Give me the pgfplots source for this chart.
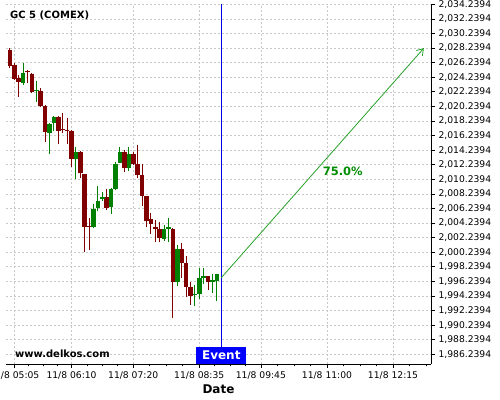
\documentclass[border=0pt]{standalone}
\usepackage{fontspec}
\setmainfont{DejaVu Sans}
\usepackage{pgfplots}
\pgfplotsset{compat=1.18}
\usepackage{pgfplotstable}
\usetikzlibrary{arrows.meta}
\definecolor{cred}{RGB}{128,0,0}
\definecolor{cgreen}{RGB}{0,128,0}
\definecolor{agreen}{RGB}{40,160,40}
\definecolor{tgreen}{RGB}{0,140,0}
\definecolor{evblue}{RGB}{0,0,230}
\definecolor{boxblue}{RGB}{0,0,255}
\definecolor{gridgray}{RGB}{200,200,200}

% t = minutes after 11/8 05:05
\pgfplotstableread{
t O H L C
-5 2027.99 2028.22 2025.48 2025.83
0 2025.93 2026.16 2023.87 2024.01
5 2024.19 2024.56 2021.54 2023.64
15 2025.07 2025.24 2023.46 2024.93
20 2024.70 2024.79 2022.13 2022.27
30 2022.36 2022.82 2020.13 2020.31
35 2020.31 2020.40 2015.41 2016.78
50 2018.84 2018.90 2015.05 2016.92
55 2017.05 2019.30 2016.56 2016.97
60 2016.97 2018.62 2015.09 2016.90
65 2016.88 2017.00 2011.98 2013.08
75 2014.04 2014.10 2010.39 2011.07
80 2010.98 2011.02 2000.32 2003.75
85 2003.80 2004.90 2000.55 2003.72
105 2007.86 2008.88 2006.04 2006.36
125 2013.95 2014.27 2011.21 2011.76
135 2013.72 2013.99 2012.21 2012.39
140 2012.39 2014.96 2010.43 2010.84
145 2010.84 2012.35 2006.59 2007.92
150 2007.92 2008.00 2003.75 2004.57
155 2004.81 2005.63 2002.75 2004.12
160 2003.75 2004.67 2001.69 2003.43
165 2003.43 2004.39 2001.61 2002.16
180 2003.43 2003.50 1991.18 1996.20
190 2000.69 2001.47 1996.71 1998.73
195 1998.81 1999.73 1994.06 1995.44
200 1995.48 1996.16 1993.01 1994.28
220 1996.95 1997.00 1995.00 1996.20
}\redcandles

\pgfplotstableread{
t O H L C
10 2023.50 2026.16 2023.19 2024.83
25 2022.32 2023.69 2020.90 2022.54
40 2016.64 2017.90 2013.68 2017.84
45 2018.02 2018.93 2016.88 2018.84
70 2012.99 2014.72 2010.29 2014.04
90 2003.75 2006.82 2003.57 2006.18
95 2006.36 2009.33 2005.90 2007.27
100 2007.55 2008.51 2007.27 2007.86
110 2006.38 2009.00 2005.49 2008.85
115 2008.88 2012.58 2008.78 2012.35
120 2012.53 2014.72 2012.50 2013.95
130 2011.76 2014.64 2011.39 2013.72
170 2002.06 2003.98 2001.79 2003.43
175 2003.36 2004.87 2001.69 2003.67
185 1996.20 2001.24 1995.61 2000.69
205 1994.34 1995.75 1992.87 1994.52
210 1994.52 1998.08 1993.76 1996.71
215 1996.75 1998.04 1995.89 1996.95
225 1996.16 1997.26 1994.61 1996.37
230 1996.34 1997.30 1993.49 1997.26
}\greencandles

\begin{document}
\begin{tikzpicture}
\useasboundingbox (0,0) rectangle (500bp,400bp);
\begin{axis}[
  at={(6bp,36bp)}, anchor=south west,
  scale only axis, width=425bp, height=360bp,
  xmin=-9.42, xmax=473.1, ymin=1984.91, ymax=2034.29,
  axis x line*=bottom, axis y line*=right,
  axis line style={black, line width=1bp},
  tick align=outside,
  major tick length=4bp, minor tick length=2.5bp,
  tick style={black, line width=0.8bp},
  grid=major,
  major grid style={gridgray, dash pattern=on 2bp off 2bp, line width=0.7bp},
  xtick={0,65,135,210,280,355,430},
  xticklabels={11/8 05:05,11/8 06:10,11/8 07:20,11/8 08:35,11/8 09:45,11/8 11:00,11/8 12:15},
  minor xtick={16.25,32.5,48.75,82.5,100,117.5,153.75,172.5,191.25,227.5,245,262.5,298.75,317.5,336.25,373.75,392.5,411.25,448.75,467.5},
  ytick={1986.2394,1988.2394,1990.2394,1992.2394,1994.2394,1996.2394,1998.2394,2000.2394,2002.2394,2004.2394,2006.2394,2008.2394,2010.2394,2012.2394,2014.2394,2016.2394,2018.2394,2020.2394,2022.2394,2024.2394,2026.2394,2028.2394,2030.2394,2032.2394,2034.2394},
  yticklabels={{1,986.2394},{1,988.2394},{1,990.2394},{1,992.2394},{1,994.2394},{1,996.2394},{1,998.2394},{2,000.2394},{2,002.2394},{2,004.2394},{2,006.2394},{2,008.2394},{2,010.2394},{2,012.2394},{2,014.2394},{2,016.2394},{2,018.2394},{2,020.2394},{2,022.2394},{2,024.2394},{2,026.2394},{2,028.2394},{2,030.2394},{2,032.2394},{2,034.2394}},
  ticklabel style={font=\fontsize{9.2bp}{11bp}\selectfont, text=black},
  xlabel={Date},
  xlabel style={font=\bfseries\fontsize{12bp}{14bp}\selectfont, at={(axis description cs:0.5,0)}, anchor=base, yshift=-29.3bp},
]
% wicks
\addplot[draw=none, mark=none, forget plot,
  error bars/.cd, y dir=plus, y explicit, error mark=none,
  error bar style={draw=cred, line width=1bp, solid}]
  table[x=t, y=L, y error expr={\thisrow{H}-\thisrow{L}}] {\redcandles};
\addplot[draw=none, mark=none, forget plot,
  error bars/.cd, y dir=plus, y explicit, error mark=none,
  error bar style={draw=cgreen, line width=1bp, solid}]
  table[x=t, y=L, y error expr={\thisrow{H}-\thisrow{L}}] {\greencandles};
% bodies
\addplot[draw=none, mark=none, forget plot,
  error bars/.cd, y dir=plus, y explicit, error mark=none,
  error bar style={draw=cred, line width=4.6bp, solid}]
  table[x=t, y=C, y error expr={max(\thisrow{O}-\thisrow{C},0.14)}] {\redcandles};
\addplot[draw=none, mark=none, forget plot,
  error bars/.cd, y dir=plus, y explicit, error mark=none,
  error bar style={draw=cgreen, line width=4.6bp, solid}]
  table[x=t, y=O, y error expr={max(\thisrow{C}-\thisrow{O},0.14)}] {\greencandles};
% event line
\addplot[evblue, line width=1.3bp, forget plot] coordinates {(235,1984.91) (235,2034.29)};
% projection arrow
\addplot[agreen, line width=0.8bp, forget plot, -{Straight Barb[length=6bp,width=8bp]}] coordinates {(235,1996.74) (465,2028.2394)};
\node[text=tgreen, font=\bfseries\fontsize{11.5bp}{13bp}\selectfont] at (axis cs:372.9,2011.4) {75.0\%};
\node[fill=boxblue, text=white, font=\bfseries\fontsize{12bp}{14bp}\selectfont, minimum width=49.7bp, minimum height=16.6bp, inner sep=0pt, anchor=south] at (axis cs:235,1984.91) {Event};
\end{axis}
\node[anchor=base west, inner sep=0pt, font=\bfseries\fontsize{10bp}{12bp}\selectfont] at (10bp,381bp) {GC 5 (COMEX)};
\node[anchor=base west, inner sep=0pt, font=\bfseries\fontsize{10bp}{12bp}\selectfont] at (15bp,42.7bp) {www.delkos.com};
\end{tikzpicture}
\end{document}
